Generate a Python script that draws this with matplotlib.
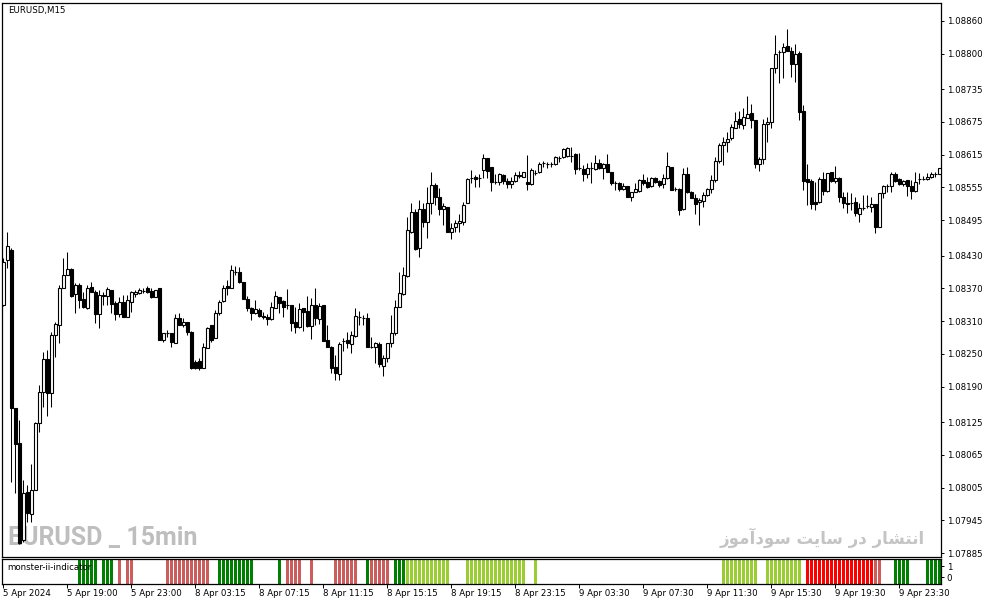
import numpy as np
import matplotlib.pyplot as plt

# EURUSD M15 candles, prices in points (1e-5)
open_pt = [
    108340, 108422, 108440, 108151, 108087, 107909, 107997, 107957, 108001, 108123,
    108180, 108241, 108178, 108285, 108303, 108371, 108395, 108406, 108360, 108376,
    108351, 108334, 108373, 108363, 108323, 108356, 108356, 108367, 108343, 108323,
    108345, 108318, 108345, 108360, 108362, 108366, 108371, 108365, 108354, 108371,
    108275, 108288, 108288, 108270, 108316, 108303, 108308, 108290, 108235, 108237,
    108224, 108261, 108303, 108279, 108325, 108347, 108374, 108371, 108400, 108400,
    108382, 108351, 108334, 108325, 108330, 108319, 108318, 108314, 108334, 108354,
    108347, 108340, 108340, 108308, 108299, 108334, 108329, 108301, 108340, 108314,
    108340, 108275, 108263, 108226, 108213, 108274, 108275, 108268, 108283, 108318,
    108316, 108316, 108263, 108263, 108268, 108228, 108242, 108270, 108288, 108336,
    108360, 108393, 108473, 108510, 108444, 108516, 108492, 108527, 108560, 108538,
    108516, 108519, 108473, 108483, 108490, 108492, 108527, 108572, 108574, 108572,
    108587, 108609, 108592, 108565, 108565, 108578, 108567, 108561, 108567, 108576,
    108574, 108565, 108561, 108582, 108583, 108600, 108598, 108598, 108598, 108609,
    108611, 108613, 108613, 108616, 108591, 108589, 108580, 108591, 108589, 108600,
    108591, 108598, 108583, 108563, 108563, 108552, 108558, 108538, 108547, 108548,
    108569, 108565, 108558, 108572, 108567, 108561, 108572, 108592, 108552, 108552,
    108516, 108580, 108547, 108536, 108528, 108530, 108541, 108552, 108569, 108603,
    108633, 108638, 108646, 108664, 108680, 108669, 108682, 108691, 108679, 108598,
    108607, 108671, 108675, 108774, 108803, 108803, 108814, 108805, 108781, 108801,
    108695, 108570, 108567, 108528, 108528, 108570, 108548, 108583, 108567, 108572,
    108538, 108527, 108527, 108528, 108506, 108517, 108521, 108519, 108525, 108483,
    108545, 108558, 108558, 108580, 108570, 108561, 108569, 108558, 108548, 108570,
    108570, 108570, 108574, 108580, 108580,
]
high_pt = [
    108426, 108473, 108444, 108151, 108129, 108019, 108010, 108048, 108125, 108193,
    108253, 108257, 108290, 108308, 108376, 108426, 108437, 108407, 108380, 108380,
    108363, 108376, 108382, 108367, 108367, 108363, 108373, 108367, 108347, 108354,
    108358, 108358, 108365, 108367, 108371, 108371, 108374, 108371, 108367, 108371,
    108288, 108294, 108288, 108323, 108325, 108316, 108308, 108292, 108239, 108242,
    108270, 108299, 108303, 108330, 108349, 108376, 108385, 108413, 108411, 108409,
    108382, 108356, 108336, 108349, 108334, 108327, 108323, 108345, 108365, 108354,
    108349, 108369, 108340, 108336, 108343, 108334, 108356, 108352, 108371, 108343,
    108340, 108303, 108264, 108248, 108272, 108279, 108290, 108292, 108334, 108329,
    108321, 108325, 108281, 108272, 108272, 108248, 108270, 108321, 108349, 108400,
    108409, 108501, 108527, 108516, 108532, 108527, 108556, 108583, 108563, 108554,
    108527, 108519, 108490, 108495, 108506, 108528, 108572, 108587, 108578, 108580,
    108616, 108609, 108592, 108580, 108582, 108580, 108572, 108574, 108583, 108585,
    108583, 108615, 108591, 108587, 108602, 108603, 108602, 108602, 108613, 108613,
    108627, 108629, 108629, 108618, 108618, 108596, 108600, 108602, 108615, 108607,
    108600, 108616, 108583, 108567, 108565, 108563, 108558, 108547, 108563, 108570,
    108580, 108574, 108574, 108574, 108569, 108580, 108620, 108592, 108556, 108554,
    108591, 108592, 108548, 108543, 108536, 108547, 108554, 108578, 108611, 108636,
    108647, 108657, 108671, 108693, 108695, 108701, 108723, 108708, 108679, 108611,
    108680, 108684, 108774, 108834, 108807, 108820, 108845, 108812, 108818, 108805,
    108706, 108598, 108570, 108565, 108574, 108583, 108582, 108583, 108594, 108574,
    108547, 108547, 108545, 108538, 108527, 108541, 108541, 108538, 108525, 108545,
    108560, 108561, 108583, 108583, 108572, 108569, 108569, 108569, 108583, 108582,
    108576, 108582, 108583, 108583, 108591,
]
low_pt = [
    108338, 108407, 108015, 107995, 107901, 107906, 107942, 107942, 108000, 108107,
    108153, 108136, 108153, 108244, 108270, 108370, 108394, 108354, 108325, 108334,
    108334, 108332, 108363, 108307, 108297, 108340, 108340, 108325, 108312, 108318,
    108318, 108317, 108327, 108354, 108360, 108362, 108362, 108352, 108354, 108275,
    108272, 108280, 108263, 108270, 108303, 108299, 108285, 108222, 108222, 108220,
    108224, 108261, 108272, 108279, 108321, 108345, 108358, 108371, 108395, 108380,
    108351, 108329, 108312, 108323, 108318, 108314, 108303, 108312, 108334, 108325,
    108318, 108332, 108292, 108288, 108297, 108292, 108299, 108277, 108303, 108305,
    108274, 108263, 108215, 108202, 108202, 108255, 108261, 108252, 108281, 108303,
    108303, 108263, 108261, 108233, 108226, 108209, 108235, 108263, 108285, 108336,
    108358, 108391, 108472, 108440, 108428, 108483, 108462, 108506, 108523, 108505,
    108487, 108473, 108461, 108473, 108473, 108487, 108527, 108563, 108556, 108556,
    108572, 108572, 108548, 108561, 108560, 108561, 108554, 108554, 108565, 108572,
    108574, 108550, 108560, 108578, 108582, 108592, 108591, 108592, 108596, 108602,
    108609, 108611, 108602, 108580, 108587, 108567, 108572, 108563, 108587, 108589,
    108570, 108583, 108560, 108550, 108548, 108550, 108538, 108530, 108547, 108547,
    108560, 108554, 108556, 108563, 108556, 108554, 108570, 108550, 108548, 108505,
    108514, 108545, 108536, 108506, 108487, 108519, 108539, 108545, 108565, 108600,
    108596, 108620, 108642, 108664, 108664, 108662, 108682, 108664, 108591, 108585,
    108598, 108638, 108664, 108765, 108746, 108756, 108805, 108757, 108748, 108679,
    108550, 108523, 108516, 108514, 108527, 108541, 108547, 108565, 108563, 108528,
    108517, 108508, 108514, 108503, 108492, 108514, 108517, 108510, 108472, 108483,
    108536, 108547, 108547, 108565, 108560, 108558, 108539, 108534, 108547, 108561,
    108569, 108569, 108572, 108574, 108580,
]
close_pt = [
    108418, 108448, 108151, 108085, 107903, 107995, 107958, 108001, 108123, 108180,
    108241, 108178, 108285, 108305, 108371, 108395, 108406, 108356, 108376, 108349,
    108336, 108371, 108363, 108323, 108358, 108357, 108369, 108341, 108323, 108345,
    108318, 108349, 108363, 108363, 108367, 108366, 108363, 108354, 108367, 108275,
    108288, 108288, 108272, 108316, 108303, 108308, 108290, 108224, 108224, 108224,
    108263, 108297, 108275, 108325, 108345, 108371, 108371, 108404, 108400, 108382,
    108351, 108334, 108325, 108332, 108319, 108318, 108314, 108336, 108356, 108343,
    108336, 108340, 108307, 108299, 108332, 108327, 108301, 108340, 108316, 108338,
    108274, 108263, 108224, 108215, 108268, 108274, 108270, 108285, 108319, 108318,
    108316, 108263, 108263, 108270, 108231, 108242, 108270, 108288, 108336, 108362,
    108395, 108477, 108510, 108442, 108516, 108492, 108527, 108560, 108538, 108516,
    108521, 108473, 108481, 108490, 108493, 108523, 108570, 108572, 108570, 108572,
    108609, 108585, 108565, 108565, 108580, 108567, 108561, 108567, 108578, 108578,
    108583, 108561, 108587, 108582, 108598, 108600, 108598, 108598, 108611, 108609,
    108625, 108627, 108613, 108589, 108591, 108580, 108591, 108591, 108600, 108591,
    108598, 108583, 108563, 108563, 108552, 108558, 108538, 108547, 108552, 108569,
    108563, 108556, 108572, 108565, 108560, 108572, 108594, 108550, 108552, 108514,
    108580, 108547, 108536, 108525, 108532, 108541, 108552, 108569, 108603, 108633,
    108638, 108644, 108666, 108677, 108671, 108684, 108690, 108679, 108598, 108607,
    108671, 108675, 108774, 108800, 108803, 108812, 108805, 108781, 108800, 108693,
    108567, 108565, 108525, 108525, 108570, 108548, 108582, 108567, 108572, 108538,
    108527, 108525, 108527, 108508, 108517, 108517, 108521, 108525, 108483, 108545,
    108558, 108558, 108580, 108567, 108561, 108567, 108558, 108548, 108565, 108570,
    108570, 108574, 108580, 108580, 108591,
]

price_labels = ["1.08860", "1.08800", "1.08735", "1.08675", "1.08615", "1.08555",
                "1.08495", "1.08430", "1.08370", "1.08310", "1.08250", "1.08190",
                "1.08125", "1.08065", "1.08005", "1.07945", "1.07885"]
time_labels = ["5 Apr 2024", "5 Apr 19:00", "5 Apr 23:00", "8 Apr 03:15", "8 Apr 07:15",
               "8 Apr 11:15", "8 Apr 15:15", "8 Apr 19:15", "8 Apr 23:15", "9 Apr 03:30",
               "9 Apr 07:30", "9 Apr 11:30", "9 Apr 15:30", "9 Apr 19:30", "9 Apr 23:30"]
bars_per_label = 16

# monster-ii-indicator: (first bar, last bar, state)
signal_runs = [(19, 23, "G"), (25, 27, "G"), (29, 29, "P"), (31, 32, "P"),
               (41, 51, "P"), (54, 62, "G"), (69, 69, "G"), (71, 74, "P"),
               (77, 77, "P"), (83, 88, "P"), (91, 91, "G"), (92, 96, "P"),
               (98, 100, "G"), (101, 111, "Y"), (116, 130, "Y"), (133, 133, "Y"),
               (180, 188, "Y"), (191, 199, "Y"), (201, 217, "R"), (218, 219, "P"),
               (223, 226, "G"), (231, 234, "G")]
state_colors = {"G": "#008000", "Y": "#9ACD32", "R": "#FF0000", "P": "#CD5C5C"}

o = np.array(open_pt) / 1e5
h = np.array(high_pt) / 1e5
l = np.array(low_pt) / 1e5
c = np.array(close_pt) / 1e5
idx = np.arange(len(o))

W, H = 987, 605
fig = plt.figure(figsize=(W / 100, H / 100), dpi=100)
ax = fig.add_axes([2.5 / W, 48 / H, 938.5 / W, 554.5 / H])
ind = fig.add_axes([2.5 / W, 21.5 / H, 938.5 / W, 24.5 / H])

for a in (ax, ind):
    for s in a.spines.values():
        s.set_linewidth(0.9)
        s.set_color("black")
    a.set_xlim(-0.25, 234.4)

# candles
up = c >= o
ax.vlines(idx, l, h, color="black", linewidth=0.75, zorder=2)
ax.bar(idx, np.abs(c - o), bottom=np.minimum(o, c), width=0.72,
       color=np.where(up, "white", "black"), edgecolor="black",
       linewidth=0.8, zorder=3)
ax.set_ylim(1.078777, 1.088939)
ax.yaxis.tick_right()
ax.set_yticks([float(s) for s in price_labels])
ax.set_yticklabels(price_labels)
ax.set_xticks([])
ax.tick_params(axis="y", direction="out", length=2.5, width=0.7, pad=1.5,
               labelsize=6.2, colors="black")

ax.text(8 / W, 1 - 538 / H, "EURUSD _ 15min", transform=fig.transFigure,
        fontsize=18, fontweight="bold", color="#BEBEBE", va="center", ha="left",
        family=["Roboto", "DejaVu Sans"], zorder=1)
# "انتشار در سایت سودآموز" in shaped, visual order
fa_text = ("\uFEAF\uFEEE\uFEE3\uFE81\uFEA9\uFEEE\uFEB3 \uFE96\uFBFE\uFE8E\uFEB3 "
           "\uFEAD\uFEA9 \uFEAD\uFE8E\uFEB8\uFE98\uFEE7\uFE8D")
ax.text(925 / W, 1 - 538 / H, fa_text, transform=fig.transFigure,
        fontsize=12, fontweight="bold", color="#C4C4C4", va="center", ha="right",
        family=["DejaVu Sans"], zorder=1)
fig.text(8 / W, 1 - 10 / H, "EURUSD,M15", fontsize=6.2, va="center", ha="left")

# indicator panel
lo, hi = -0.59, 1.64
sel = [i for a, b, k in signal_runs for i in range(a, b + 1)]
cols = [state_colors[k] for a, b, k in signal_runs for i in range(a, b + 1)]
ind.bar(sel, hi - lo, bottom=lo, width=0.68, color=cols, linewidth=0, zorder=2)
ind.set_ylim(lo, hi)
ind.yaxis.tick_right()
ind.set_yticks([0, 1])
ind.set_yticklabels(["0", "1"])
ind.set_xticks(np.arange(len(time_labels)) * bars_per_label)
ind.set_xticklabels(time_labels, ha="left")
ind.tick_params(axis="y", direction="out", length=2.5, width=0.7, pad=1.5,
                labelsize=6.2)
ind.tick_params(axis="x", direction="out", length=3, width=0.7, pad=1,
                labelsize=6.2)
ind.text(7 / W, 1 - 568 / H, "monster-ii-indicator", transform=fig.transFigure,
         fontsize=6.2, va="center", ha="left", zorder=5)

fig.savefig("out.png", dpi=100)
